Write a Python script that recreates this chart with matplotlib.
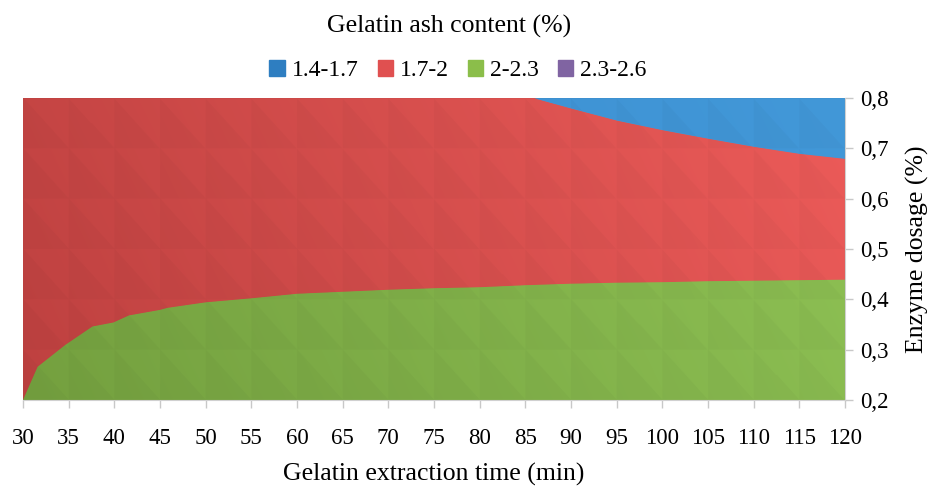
import numpy as np
import matplotlib.pyplot as plt
from matplotlib.patches import Patch
from matplotlib.colors import to_rgb
from matplotlib.ticker import FuncFormatter

# Datos
time_min = [30, 31.6, 34.6, 37.6, 39.9, 41.6, 45, 45.8, 50, 55, 60, 65, 70,
            75, 80, 85, 90, 95, 100, 105, 110, 115, 120]
# limite superior de la zona 2-2.3 (dosis de enzima, %)
green_top = [0.20, 0.266, 0.309, 0.346, 0.354, 0.368, 0.379, 0.383, 0.394,
             0.402, 0.411, 0.415, 0.419, 0.422, 0.424, 0.428, 0.431, 0.433,
             0.434, 0.436, 0.437, 0.438, 0.439]
# limite inferior de la zona 1.4-1.7
blue_time = [86, 90, 95, 100, 105, 110, 115, 120]
blue_bottom = [0.80, 0.78, 0.756, 0.737, 0.72, 0.704, 0.69, 0.68]

labels = ['1.4-1.7', '1.7-2', '2-2.3', '2.3-2.6']
legend_colors = ['#2E7EC1', '#E05050', '#8BBE4A', '#8064A2']

x_ticks = list(range(30, 121, 5))
y_ticks = [0.2, 0.3, 0.4, 0.5, 0.6, 0.7, 0.8]

plt.rcParams['font.family'] = ['Liberation Serif', 'DejaVu Serif']

fig = plt.figure(figsize=(9.35, 4.87), dpi=100)
ax = fig.add_axes([23 / 935, 87 / 487, 822 / 935, 302 / 487])


# Imagen de degradado con facetas triangulares (efecto de superficie)
def gradient(c_left, c_right):
    nx, ny = 900, 300
    xs = np.linspace(30, 120, nx)
    ys = np.linspace(0.2, 0.8, ny)
    X, Y = np.meshgrid(xs, ys)
    t = 0.85 * (X - 30) / 90 + 0.15 * (Y - 0.2) / 0.6
    c0 = np.array(to_rgb(c_left))
    c1 = np.array(to_rgb(c_right))
    img = c0[None, None, :] * (1 - t[..., None]) + c1[None, None, :] * t[..., None]
    u = ((X - 30) / 5) % 1
    v = ((Y - 0.2) / 0.1) % 1
    shade = np.where(u + v < 1, 0.975, 1.0)
    img = np.clip(img * shade[..., None], 0, 1)
    return img


def shaded_fill(x, y1, y2, c_left, c_right, z):
    poly = ax.fill_between(x, y1, y2, color=c_right, linewidth=0, zorder=z)
    im = ax.imshow(gradient(c_left, c_right), extent=[30, 120, 0.2, 0.8],
                   origin='lower', aspect='auto', interpolation='bilinear',
                   zorder=z + 0.5)
    im.set_clip_path(poly.get_paths()[0], transform=ax.transData)
    return poly


shaded_fill(time_min, 0.2, 0.8, '#BE4140', '#EC5B59', 1)
shaded_fill(time_min, 0.2, green_top, '#74A03F', '#8EC154', 2)
shaded_fill(blue_time, blue_bottom, 0.8, '#3A8BCF', '#4298D8', 3)

ax.set_xlim(30, 120)
ax.set_ylim(0.2, 0.8)

ax.yaxis.tick_right()
ax.yaxis.set_label_position('right')
ax.set_xticks(x_ticks)
ax.set_yticks(y_ticks)
ax.yaxis.set_major_formatter(FuncFormatter(lambda v, p: f'{v:.1f}'.replace('.', ',')))
ax.tick_params(axis='both', labelsize=16.5, color='#C8C8C8', length=6, width=1)
ax.tick_params(axis='x', pad=14)
ax.tick_params(axis='y', pad=5)
for side, sp in ax.spines.items():
    sp.set_visible(side in ('bottom', 'right'))
    sp.set_color('#D0D0D0')
    sp.set_zorder(5)

ax.set_xlabel('Gelatin extraction time (min)', fontsize=18.5, labelpad=10)
ax.set_ylabel('Enzyme dosage (%)', fontsize=18.5, labelpad=12)

fig.text(0.48, 0.945, 'Gelatin ash content (%)', fontsize=18.5,
         ha='center', va='center')
handles = [Patch(color=c, label=l) for c, l in zip(legend_colors, labels)]
fig.legend(handles=handles, loc='center', bbox_to_anchor=(0.49, 0.855),
           ncol=4, frameon=False, fontsize=17, handlelength=0.65,
           handleheight=0.65, handletextpad=0.3, columnspacing=0.8)

fig.savefig('out.png', dpi=100)
